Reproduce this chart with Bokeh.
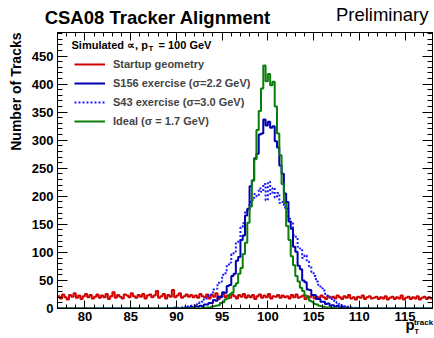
import numpy as np
from bokeh.plotting import figure
from bokeh.models import (Range1d, LinearAxis, Label, Legend, LegendItem, SingleIntervalTicker,
                          FixedTicker, Title, CustomJSTickFormatter)
from bokeh.embed import file_html
from bokeh.resources import INLINE

# ---------------- data ----------------
x_lo, x_hi = 77.0, 118.0
bin_w = 0.25
peak_lo = 88.0          # first edge of the peak arrays (same bin width)

startup = [
    22, 18, 25, 20, 16, 24, 21, 27, 19, 23, 17, 22, 26, 20, 24, 18, 21, 25, 19, 23,
    20, 26, 17, 22, 29, 19, 24, 21, 18, 25, 23, 20, 27, 22, 19, 24, 21, 26, 18, 23,
    25, 20, 23, 31, 19, 22, 26, 18, 24, 21, 33, 20, 23, 27, 19, 22, 25, 21, 24, 20,
    23, 19, 26, 22, 20, 25, 18, 24, 21, 27, 17, 22, 26, 20, 23, 19, 25, 22, 18, 24,
    21, 26, 19, 23, 20, 24, 17, 22, 25, 19, 23, 20, 26, 18, 22, 21, 24, 19, 23, 20,
    22, 18, 24, 20, 25, 19, 21, 23, 17, 22, 20, 24, 18, 21, 19, 23, 20, 17, 22, 19,
    21, 18, 23, 20, 17, 22, 19, 24, 18, 20, 16, 21, 19, 23, 17, 20, 22, 18, 19, 21,
    17, 20, 18, 22, 16, 19, 21, 17, 20, 18, 23, 16, 19, 21, 17, 20, 18, 22, 16, 19,
    21, 17, 20, 18,
]

s156 = [
    0, 0, 0, 0, 0, 0, 1, 0, 1, 0,
    1, 1, 2, 1, 3, 2, 4, 3, 5, 4, 7, 7, 10, 10, 15, 14, 21, 20, 29, 28,
    40, 42, 58, 62, 85, 92, 122, 130, 166, 178, 218, 228, 268, 276, 310, 312, 337, 326,
    333, 322, 325, 298, 287, 255, 240, 205, 190, 155,
    142, 110, 101, 76, 70, 50, 47, 34, 33, 24,
    24, 17, 17, 12, 12, 8, 9, 5, 6, 3,
    5, 2, 3, 2, 2, 1, 1, 0, 1, 1,
    0, 0, 1, 0, 0, 0, 0, 0,
]

s43 = [
    0, 0, 1, 0, 1, 0, 1, 2, 1, 2, 2, 3, 2, 4, 5, 5,
    8, 7, 11, 12, 17, 18, 24, 25, 34, 35, 46, 48, 60, 63, 78, 82, 97, 101, 118, 122,
    145, 152, 172, 176, 190, 193, 204, 200, 214, 208, 222, 193,
    226, 204, 215, 198, 206, 188, 190, 180, 178, 160,
    152, 131, 128, 110, 107, 90, 95, 84, 75, 65,
    58, 48, 42, 36, 32, 26, 22, 18, 15, 12, 10, 8,
    6, 4, 4, 3, 2, 2, 1, 1, 1, 0, 1, 0, 0, 0, 0, 0,
]

ideal = [
    0, 0, 0, 0, 0, 0, 0, 0, 0, 0, 0, 0, 0, 0, 0, 1, 0, 0,
    0, 1, 1, 2, 2, 3, 4, 5, 6, 10, 11, 16, 18, 25, 28, 40, 45, 62, 72, 97,
    117, 153, 182, 228, 266, 318, 352, 392, 433, 405,
    418, 398, 404, 360, 312, 273, 222, 188, 147, 122,
    93, 77, 58, 48, 37, 31, 23, 20, 14, 12,
    8, 7, 5, 4, 3, 2, 2, 1, 1, 1,
    0, 0, 0, 0, 0, 0, 0, 0, 0, 0, 0, 0, 0, 0, 0, 0, 0, 0,
]

x_ticks_step = 5
y_ticks_step = 50
y_max = 492

labels = ["Startup geometry", "S156 exercise (\u03c3=2.2 GeV)",
          "S43 exercise (\u03c3=3.0 GeV)", "Ideal (\u03c3 = 1.7 GeV)"]
title_text = "CSA08 Tracker Alignment"
prelim_text = "Preliminary"

# ---------------- helpers ----------------
n_bins = int(round((x_hi - x_lo) / bin_w))
edges = x_lo + bin_w * np.arange(n_bins + 1)
offset = int(round((peak_lo - x_lo) / bin_w))


def full(vals):
    out = np.zeros(n_bins)
    out[offset:offset + len(vals)] = vals
    return out


def outline(vals):
    vals = np.asarray(vals, dtype=float)
    xs = np.repeat(edges, 2)[1:-1]
    ys = np.repeat(vals, 2)
    return xs, ys


FONT = "Liberation Sans"
FL, FB = 56, 308  # frame left / bottom in canvas px
px_per_x = (432 - FL) / (x_hi - x_lo)


def xdata(cx):
    # canvas x (px) -> data x, used only to anchor header / axis-title text
    return x_lo + (cx - FL) / px_per_x


p = figure(width=434, height=338, x_range=Range1d(x_lo, x_hi), y_range=Range1d(0, y_max),
           output_backend="svg", toolbar_location=None,
           min_border_left=FL, min_border_right=2, min_border_top=30, min_border_bottom=30)
p.xgrid.visible = False
p.ygrid.visible = False
p.outline_line_color = "black"
p.outline_line_width = 1
p.background_fill_color = "white"
p.border_fill_color = "white"
p.title.text = ""

xt = SingleIntervalTicker(interval=x_ticks_step, num_minor_ticks=5)
yt = SingleIntervalTicker(interval=y_ticks_step, num_minor_ticks=5)


def style(ax, ticker, major, minor, show):
    ax.ticker = ticker
    ax.major_tick_in = major
    ax.major_tick_out = 0
    ax.minor_tick_in = minor
    ax.minor_tick_out = 0
    ax.axis_line_color = "black"
    ax.major_tick_line_color = "black"
    ax.minor_tick_line_color = "black"
    ax.major_label_text_font = FONT
    ax.major_label_text_font_style = "bold"
    ax.major_label_text_font_size = "13px" if show else "0px"
    ax.major_label_text_color = "black"
    ax.major_label_standoff = 3 if show else 0


style(p.xaxis[0], xt, 8, 4, True)
style(p.yaxis[0], yt, 10, 5, True)
p.yaxis[0].major_label_standoff = 4
top_ax = LinearAxis()
style(top_ax, xt, 8, 4, False)
p.add_layout(top_ax, "above")
right_ax = LinearAxis()
style(right_ax, yt, 10, 5, False)
p.add_layout(right_ax, "right")


def text_axis(side, positions, code, size, standoff, weight="bold"):
    ax = LinearAxis(ticker=FixedTicker(ticks=positions, minor_ticks=[]),
                    formatter=CustomJSTickFormatter(code=code))
    ax.axis_line_color = None
    ax.major_tick_line_color = None
    ax.minor_tick_line_color = None
    ax.major_tick_in = 0
    ax.major_tick_out = 0
    ax.minor_tick_in = 0
    ax.minor_tick_out = 0
    ax.major_label_text_font = FONT
    ax.major_label_text_font_style = weight
    ax.major_label_text_font_size = f"{size}px"
    ax.major_label_text_color = "black"
    ax.major_label_standoff = standoff
    p.add_layout(ax, side)
    return ax


# header row: bold title (left) and plain "Preliminary" (right)
text_axis("above", [xdata(156.5)], "return '%s'" % title_text, 18.5, 5)
text_axis("above", [xdata(381.5)], "return '%s'" % prelim_text, 18.5, -21, weight="normal")

# x axis title p_T^track, three pieces under the tick labels
text_axis("below", [xdata(423.0)], "return 'track'", 8, -6)
text_axis("below", [xdata(409.5)], "return 'p'", 15, -14)
text_axis("below", [xdata(416.0)], "return 'T'", 7, -8)

# y axis title in the left panel, aligned to the top
ytitle = Title(text="Number of Tracks", align="right", text_font=FONT, text_font_size="14px",
               text_font_style="bold", text_color="black", standoff=10)
p.add_layout(ytitle, "left")

# ---------------- histograms ----------------
xs, ys = outline(startup)
r_red = p.line(xs, ys, line_color="#d00000", line_width=2)
xs, ys = outline(full(s43))
r_dot = p.line(xs, ys, line_color="#1a1aff", line_width=2, line_dash="2 2")
xs, ys = outline(full(s156))
r_blue = p.line(xs, ys, line_color="#0000b0", line_width=2)
xs, ys = outline(full(ideal))
r_green = p.line(xs, ys, line_color="#0a7d0a", line_width=2)

legend = Legend(items=[LegendItem(label=labels[0], renderers=[r_red]),
                       LegendItem(label=labels[1], renderers=[r_blue]),
                       LegendItem(label=labels[2], renderers=[r_dot]),
                       LegendItem(label=labels[3], renderers=[r_green])],
                location=(17, 179), padding=0, margin=0, spacing=3,
                glyph_width=31, glyph_height=16, label_height=16, label_standoff=8,
                label_text_font=FONT, label_text_font_style="bold", label_text_font_size="11px",
                background_fill_alpha=0, border_line_alpha=0)
p.add_layout(legend)


def lab(text, cx, cy, size, style="bold", align="left", baseline="alphabetic"):
    p.add_layout(Label(x=cx - FL, y=FB - cy, x_units="screen", y_units="screen", text=text,
                       text_font=FONT, text_font_size=f"{size}px", text_font_style=style,
                       text_align=align, text_baseline=baseline, text_color="black"))


# legend header inside the frame
lab("Simulated \u221d, p", 70, 44, 11)
lab("T", 147, 48, 8)
lab("= 100 GeV", 157, 44, 11)

open("out.html", "w").write(file_html(p, INLINE))
